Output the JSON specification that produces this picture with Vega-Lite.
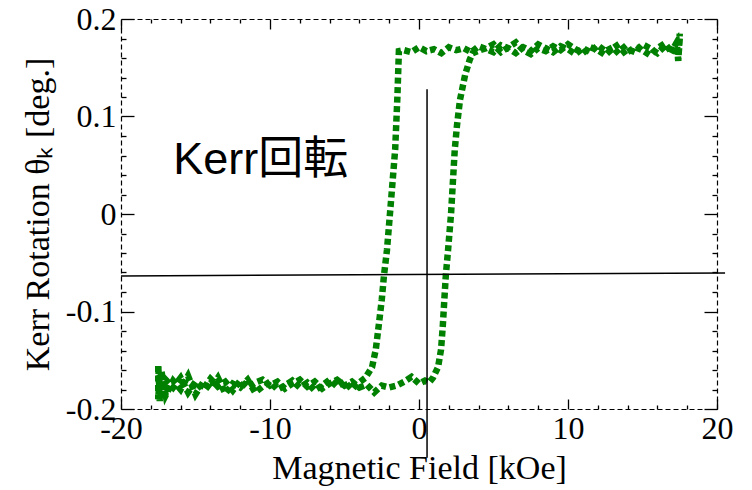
{
  "$schema": "https://vega.github.io/schema/vega-lite/v6.json",
  "width": 596,
  "height": 390,
  "autosize": "none",
  "padding": {"left": 121, "top": 19, "right": 35, "bottom": 81},
  "background": "white",
  "config": {
    "view": {"stroke": null},
    "axis": {
      "grid": false,
      "domainColor": "black",
      "domainDash": [5, 3],
      "domainWidth": 1.2,
      "tickColor": "black",
      "tickWidth": 1.3,
      "labelFont": "Liberation Serif",
      "labelFontSize": 32,
      "labelColor": "black",
      "titleFont": "Liberation Serif",
      "titleFontSize": 34,
      "titleFontWeight": "normal",
      "titleColor": "black"
    }
  },
  "layer": [
    {
      "data": {"values": [
        {"i": 1, "x": 17.5, "y": 0.18},
        {"i": 2, "x": 17.4, "y": 0.158},
        {"i": 3, "x": 17.3, "y": 0.176},
        {"i": 4, "x": 17.0, "y": 0.168},
        {"i": 5, "x": 16.5, "y": 0.172},
        {"i": 6, "x": 16.0, "y": 0.165},
        {"i": 7, "x": 15.5, "y": 0.17},
        {"i": 8, "x": 15.0, "y": 0.174},
        {"i": 9, "x": 14.5, "y": 0.166},
        {"i": 10, "x": 14.0, "y": 0.169},
        {"i": 11, "x": 13.5, "y": 0.163},
        {"i": 12, "x": 13.0, "y": 0.171},
        {"i": 13, "x": 12.5, "y": 0.167},
        {"i": 14, "x": 12.0, "y": 0.173},
        {"i": 15, "x": 11.5, "y": 0.166},
        {"i": 16, "x": 11.0, "y": 0.17},
        {"i": 17, "x": 10.5, "y": 0.164},
        {"i": 18, "x": 10.0, "y": 0.169},
        {"i": 19, "x": 9.5, "y": 0.172},
        {"i": 20, "x": 9.0, "y": 0.166},
        {"i": 21, "x": 8.5, "y": 0.17},
        {"i": 22, "x": 8.0, "y": 0.174},
        {"i": 23, "x": 7.5, "y": 0.167},
        {"i": 24, "x": 7.0, "y": 0.171},
        {"i": 25, "x": 6.5, "y": 0.165},
        {"i": 26, "x": 6.0, "y": 0.17},
        {"i": 27, "x": 5.5, "y": 0.173},
        {"i": 28, "x": 5.0, "y": 0.166},
        {"i": 29, "x": 4.5, "y": 0.169},
        {"i": 30, "x": 4.0, "y": 0.172},
        {"i": 31, "x": 3.5, "y": 0.166},
        {"i": 32, "x": 3.0, "y": 0.17},
        {"i": 33, "x": 2.5, "y": 0.168},
        {"i": 34, "x": 2.0, "y": 0.171},
        {"i": 35, "x": 1.5, "y": 0.165},
        {"i": 36, "x": 1.0, "y": 0.169},
        {"i": 37, "x": 0.5, "y": 0.167},
        {"i": 38, "x": 0.0, "y": 0.171},
        {"i": 39, "x": -0.5, "y": 0.166},
        {"i": 40, "x": -1.0, "y": 0.168},
        {"i": 41, "x": -1.35, "y": 0.167},
        {"i": 42, "x": -1.45, "y": 0.12},
        {"i": 43, "x": -1.6, "y": 0.066},
        {"i": 44, "x": -1.95, "y": 0.0},
        {"i": 45, "x": -2.15, "y": -0.037},
        {"i": 46, "x": -2.35, "y": -0.063},
        {"i": 47, "x": -2.5, "y": -0.088},
        {"i": 48, "x": -2.7, "y": -0.114},
        {"i": 49, "x": -2.9, "y": -0.139},
        {"i": 50, "x": -3.15, "y": -0.157},
        {"i": 51, "x": -3.6, "y": -0.168},
        {"i": 52, "x": -4.2, "y": -0.175},
        {"i": 53, "x": -4.5, "y": -0.18},
        {"i": 54, "x": -5.0, "y": -0.172},
        {"i": 55, "x": -5.5, "y": -0.177},
        {"i": 56, "x": -6.0, "y": -0.17},
        {"i": 57, "x": -6.5, "y": -0.176},
        {"i": 58, "x": -7.0, "y": -0.181},
        {"i": 59, "x": -7.5, "y": -0.173},
        {"i": 60, "x": -8.0, "y": -0.178},
        {"i": 61, "x": -8.5, "y": -0.171},
        {"i": 62, "x": -9.0, "y": -0.176},
        {"i": 63, "x": -9.5, "y": -0.18},
        {"i": 64, "x": -10.0, "y": -0.172},
        {"i": 65, "x": -10.5, "y": -0.177},
        {"i": 66, "x": -11.0, "y": -0.183},
        {"i": 67, "x": -11.5, "y": -0.17},
        {"i": 68, "x": -12.0, "y": -0.178},
        {"i": 69, "x": -12.5, "y": -0.174},
        {"i": 70, "x": -13.0, "y": -0.184},
        {"i": 71, "x": -13.5, "y": -0.168},
        {"i": 72, "x": -14.0, "y": -0.179},
        {"i": 73, "x": -14.5, "y": -0.173},
        {"i": 74, "x": -15.0, "y": -0.185},
        {"i": 75, "x": -15.5, "y": -0.166},
        {"i": 76, "x": -16.0, "y": -0.18},
        {"i": 77, "x": -16.5, "y": -0.171},
        {"i": 78, "x": -17.0, "y": -0.186},
        {"i": 79, "x": -17.3, "y": -0.16},
        {"i": 80, "x": -17.4, "y": -0.192},
        {"i": 81, "x": -17.5, "y": -0.155},
        {"i": 82, "x": -17.5, "y": -0.19},
        {"i": 83, "x": -17.4, "y": -0.165},
        {"i": 84, "x": -17.2, "y": -0.182},
        {"i": 85, "x": -17.0, "y": -0.17},
        {"i": 86, "x": -16.5, "y": -0.178},
        {"i": 87, "x": -16.0, "y": -0.168},
        {"i": 88, "x": -15.5, "y": -0.183},
        {"i": 89, "x": -15.0, "y": -0.172},
        {"i": 90, "x": -14.5, "y": -0.18},
        {"i": 91, "x": -14.0, "y": -0.169},
        {"i": 92, "x": -13.5, "y": -0.177},
        {"i": 93, "x": -13.0, "y": -0.172},
        {"i": 94, "x": -12.5, "y": -0.181},
        {"i": 95, "x": -12.0, "y": -0.171},
        {"i": 96, "x": -11.5, "y": -0.178},
        {"i": 97, "x": -11.0, "y": -0.173},
        {"i": 98, "x": -10.5, "y": -0.17},
        {"i": 99, "x": -10.0, "y": -0.176},
        {"i": 100, "x": -9.5, "y": -0.172},
        {"i": 101, "x": -9.0, "y": -0.179},
        {"i": 102, "x": -8.5, "y": -0.174},
        {"i": 103, "x": -8.0, "y": -0.17},
        {"i": 104, "x": -7.5, "y": -0.177},
        {"i": 105, "x": -7.0, "y": -0.172},
        {"i": 106, "x": -6.5, "y": -0.179},
        {"i": 107, "x": -6.0, "y": -0.174},
        {"i": 108, "x": -5.5, "y": -0.17},
        {"i": 109, "x": -5.0, "y": -0.176},
        {"i": 110, "x": -4.5, "y": -0.172},
        {"i": 111, "x": -4.0, "y": -0.178},
        {"i": 112, "x": -3.5, "y": -0.175},
        {"i": 113, "x": -3.0, "y": -0.183},
        {"i": 114, "x": -2.5, "y": -0.176},
        {"i": 115, "x": -2.0, "y": -0.178},
        {"i": 116, "x": -1.5, "y": -0.176},
        {"i": 117, "x": -1.0, "y": -0.172},
        {"i": 118, "x": -0.5, "y": -0.167},
        {"i": 119, "x": 0.0, "y": -0.174},
        {"i": 120, "x": 0.4, "y": -0.171},
        {"i": 121, "x": 0.67, "y": -0.173},
        {"i": 122, "x": 0.94, "y": -0.168},
        {"i": 123, "x": 1.28, "y": -0.157},
        {"i": 124, "x": 1.48, "y": -0.139},
        {"i": 125, "x": 1.6, "y": -0.114},
        {"i": 126, "x": 1.7, "y": -0.088},
        {"i": 127, "x": 1.8, "y": -0.063},
        {"i": 128, "x": 1.95, "y": -0.037},
        {"i": 129, "x": 2.15, "y": 0.0},
        {"i": 130, "x": 2.4, "y": 0.066},
        {"i": 131, "x": 2.55, "y": 0.091},
        {"i": 132, "x": 2.75, "y": 0.117},
        {"i": 133, "x": 3.1, "y": 0.143},
        {"i": 134, "x": 3.4, "y": 0.158},
        {"i": 135, "x": 3.6, "y": 0.165},
        {"i": 136, "x": 4.1, "y": 0.168},
        {"i": 137, "x": 4.5, "y": 0.17},
        {"i": 138, "x": 5.0, "y": 0.174},
        {"i": 139, "x": 5.5, "y": 0.166},
        {"i": 140, "x": 6.0, "y": 0.171},
        {"i": 141, "x": 6.5, "y": 0.176},
        {"i": 142, "x": 7.0, "y": 0.168},
        {"i": 143, "x": 7.5, "y": 0.164},
        {"i": 144, "x": 8.0, "y": 0.17},
        {"i": 145, "x": 8.5, "y": 0.167},
        {"i": 146, "x": 9.0, "y": 0.172},
        {"i": 147, "x": 9.5, "y": 0.168},
        {"i": 148, "x": 10.0, "y": 0.174},
        {"i": 149, "x": 10.5, "y": 0.169},
        {"i": 150, "x": 11.0, "y": 0.165},
        {"i": 151, "x": 11.5, "y": 0.171},
        {"i": 152, "x": 12.0, "y": 0.168},
        {"i": 153, "x": 12.5, "y": 0.163},
        {"i": 154, "x": 13.0, "y": 0.17},
        {"i": 155, "x": 13.5, "y": 0.175},
        {"i": 156, "x": 14.0, "y": 0.166},
        {"i": 157, "x": 14.5, "y": 0.171},
        {"i": 158, "x": 15.0, "y": 0.168},
        {"i": 159, "x": 15.5, "y": 0.163},
        {"i": 160, "x": 16.0, "y": 0.17},
        {"i": 161, "x": 16.5, "y": 0.175},
        {"i": 162, "x": 17.0, "y": 0.165},
        {"i": 163, "x": 17.3, "y": 0.172},
        {"i": 164, "x": 17.4, "y": 0.157},
        {"i": 165, "x": 17.5, "y": 0.185}
      ]},
      "mark": {"type": "line", "color": "#008000", "strokeWidth": 6.5, "strokeDash": [6, 3.5], "strokeCap": "butt"},
      "encoding": {
        "x": {
          "field": "x", "type": "quantitative",
          "scale": {"domain": [-20, 20], "nice": false, "zero": false},
          "axis": {
            "orient": "bottom",
            "title": "Magnetic Field [kOe]",
            "values": [-20, -18, -16, -14, -12, -10, -8, -6, -4, -2, 0, 2, 4, 6, 8, 10, 12, 14, 16, 18, 20],
            "tickSize": {"condition": {"test": "datum.value % 10 === 0", "value": -10}, "value": -4},
            "labelExpr": "datum.value % 10 === 0 ? '' + datum.value : ''",
            "labelPadding": 14,
            "labelFlush": false,
            "labelOverlap": false,
            "titlePadding": 1
          }
        },
        "y": {
          "field": "y", "type": "quantitative",
          "scale": {"domain": [-0.2, 0.2], "nice": false, "zero": false},
          "axis": {
            "orient": "left",
            "title": "Kerr Rotation θₖ [deg.]",
            "values": [-0.2, -0.18, -0.16, -0.14, -0.12, -0.1, -0.08, -0.06, -0.04, -0.02, 0, 0.02, 0.04, 0.06, 0.08, 0.1, 0.12, 0.14, 0.16, 0.18, 0.2],
            "tickSize": {"condition": {"test": "abs(datum.value * 10 - round(datum.value * 10)) < 0.001", "value": -13}, "value": -5},
            "labelExpr": "abs(datum.value * 10 - round(datum.value * 10)) < 0.001 ? '' + datum.value : ''",
            "labelPadding": 18,
            "labelFlush": false,
            "labelOverlap": false,
            "titlePadding": 10
          }
        },
        "order": {"field": "i", "type": "quantitative"}
      }
    },
    {
      "data": {"values": [
        {"x": -20, "y": -0.0636, "x2": 20.54, "y2": -0.0605},
        {"x": 0.54, "y": 0.128, "x2": 0.54, "y2": -0.25}
      ]},
      "mark": {"type": "rule", "color": "black", "strokeWidth": 1.5},
      "encoding": {
        "x": {
          "field": "x", "type": "quantitative",
          "axis": {
            "orient": "top",
            "title": null,
            "labels": false,
            "values": [-20, -18, -16, -14, -12, -10, -8, -6, -4, -2, 0, 2, 4, 6, 8, 10, 12, 14, 16, 18, 20],
            "tickSize": {"condition": {"test": "datum.value % 10 === 0", "value": -10}, "value": -4}
          }
        },
        "x2": {"field": "x2"},
        "y": {
          "field": "y", "type": "quantitative",
          "axis": {
            "orient": "right",
            "title": null,
            "labels": false,
            "values": [-0.2, -0.18, -0.16, -0.14, -0.12, -0.1, -0.08, -0.06, -0.04, -0.02, 0, 0.02, 0.04, 0.06, 0.08, 0.1, 0.12, 0.14, 0.16, 0.18, 0.2],
            "tickSize": {"condition": {"test": "abs(datum.value * 10 - round(datum.value * 10)) < 0.001", "value": -13}, "value": -5}
          }
        },
        "y2": {"field": "y2"}
      }
    },
    {
      "data": {"values": [{"x": -16.5, "y": 0.055, "label": "Kerr回転"}]},
      "mark": {"type": "text", "align": "left", "baseline": "middle", "font": "Liberation Sans, Noto Sans CJK JP", "fontSize": 45, "color": "black"},
      "encoding": {
        "x": {"field": "x", "type": "quantitative", "axis": null},
        "y": {"field": "y", "type": "quantitative", "axis": null},
        "text": {"field": "label"}
      }
    }
  ],
  "resolve": {"axis": {"x": "independent", "y": "independent"}}
}
